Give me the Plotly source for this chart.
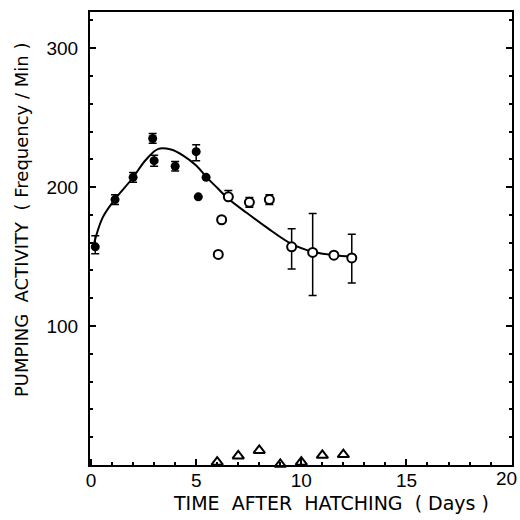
import plotly.graph_objects as go

# Fitted curve
curve_x = [0.1, 0.55, 1.15, 1.95, 2.6, 3.2, 3.8, 4.4, 5.0, 5.5, 6.0, 6.5, 7.4, 8.35, 9.55, 10.55, 11.55, 12.4]
curve_y = [157, 178, 191.5, 206, 219.5, 227.5, 227, 222.5, 215.5, 207, 199.5, 192, 181.5, 171, 159, 153.5, 151, 150]

# Filled circles
filled_x = [0.2, 1.14, 2.0, 2.93, 3.0, 4.0, 5.0, 5.47, 5.1]
filled_y = [157, 191, 207, 235, 219, 215, 225.5, 207, 193]
filled_err_up = [8, 3.5, 3.5, 3.5, 4, 3.5, 5, 0, 0]
filled_err_dn = [5, 3.5, 3.5, 3.5, 4, 3.5, 6.5, 0, 0]

# Open circles
open_x = [6.53, 6.21, 6.05, 7.53, 8.48, 9.54, 10.54, 11.55, 12.4]
open_y = [193, 176.5, 151.5, 189, 191, 157, 153, 151, 149]
open_err_up = [4.5, 0, 0, 3.5, 3.5, 13, 28, 0, 17]
open_err_dn = [0, 0, 0, 3.5, 3.5, 16, 31, 0, 18]

# Open triangles
tri_x = [6, 7, 8, 9, 10, 11, 12]
tri_y = [2, 6.5, 10.5, 0.5, 2, 7, 7.5]

x_ticks = [0, 5, 10, 15, 20]
y_ticks = [100, 200, 300]
x_range = [-0.05, 20.02]
y_range = [0, 326]

x_title = "TIME  AFTER  HATCHING  ( Days )"
y_title = "PUMPING  ACTIVITY  ( Frequency / Min )"

tick_font = dict(family="Liberation Sans Narrow, Liberation Sans, sans-serif", size=19, color="black")
title_font = dict(family="DejaVu Sans", size=18, color="black")
xtitle_font = dict(family="DejaVu Sans", size=19, color="black")

fig = go.Figure()
fig.add_trace(go.Scatter(x=curve_x, y=curve_y, mode="lines",
                         line=dict(color="black", width=2, shape="spline", smoothing=1.0),
                         hoverinfo="skip"))
fig.add_trace(go.Scatter(x=filled_x, y=filled_y, mode="markers",
                         marker=dict(symbol="circle", size=9, color="black"),
                         error_y=dict(type="data", symmetric=False, array=filled_err_up,
                                      arrayminus=filled_err_dn, color="black", thickness=1.5, width=4)))
fig.add_trace(go.Scatter(x=open_x, y=open_y, mode="markers",
                         marker=dict(symbol="circle", size=9, color="white",
                                     line=dict(color="black", width=2)),
                         error_y=dict(type="data", symmetric=False, array=open_err_up,
                                      arrayminus=open_err_dn, color="black", thickness=1.5, width=4)))
fig.add_trace(go.Scatter(x=tri_x, y=tri_y, mode="markers", cliponaxis=False,
                         marker=dict(symbol="triangle-up", size=10, color="white",
                                     line=dict(color="black", width=2))))
# invisible trace to anchor the right-hand mirror axis
fig.add_trace(go.Scatter(x=[x_range[0]], y=[y_range[0]], yaxis="y2", mode="markers",
                         marker=dict(opacity=0), hoverinfo="skip"))

fig.update_layout(
    width=520, height=520,
    margin=dict(l=90, r=8, t=12, b=55),
    paper_bgcolor="white", plot_bgcolor="white",
    showlegend=False,
    xaxis=dict(range=x_range, tickmode="array", tickvals=x_ticks, ticktext=[str(v) for v in x_ticks],
               ticks="inside", ticklen=6, tickwidth=1.5, tickcolor="black",
               minor=dict(tick0=0, dtick=1, ticks="inside", ticklen=3, tickcolor="black"),
               showline=True, linecolor="black", linewidth=2, mirror=True,
               showgrid=False, zeroline=False, tickfont=tick_font, automargin=False,
               ticklabelstandoff=-3),
    yaxis=dict(range=y_range, tickmode="array", tickvals=y_ticks, ticktext=[str(v) for v in y_ticks],
               ticks="inside", ticklen=6, tickwidth=1.5, tickcolor="black",
               minor=dict(tick0=0, dtick=20, ticks="inside", ticklen=3, tickcolor="black"),
               showline=True, linecolor="black", linewidth=2, mirror=True,
               showgrid=False, zeroline=False, tickfont=tick_font, automargin=False,
               ticklabelstandoff=6),
    yaxis2=dict(range=y_range, overlaying="y", side="right", tickmode="array", tickvals=y_ticks,
                showticklabels=False, ticks="inside", ticklen=6, tickwidth=1.5, tickcolor="black",
                minor=dict(tick0=0, dtick=20, ticks="inside", ticklen=3, tickcolor="black"),
                showline=False, showgrid=False, zeroline=False, automargin=False),
    annotations=[
        dict(text=x_title, xref="paper", yref="paper", x=0.571, y=-0.083,
             xanchor="center", yanchor="middle", showarrow=False, font=xtitle_font),
        dict(text=y_title, xref="paper", yref="paper", x=-0.161, y=0.541, textangle=-90,
             xanchor="center", yanchor="middle", showarrow=False, font=title_font),
        # last x tick label, which Plotly drops at the figure edge
        dict(text=str(x_ticks[-1]), xref="paper", yref="paper", x=1.0166, y=-0.03,
             xanchor="right", yanchor="middle", showarrow=False, font=tick_font),
    ],
)
fig.write_html("out.html", config={"displayModeBar": False},
               post_script="document.body.style.margin='0';")
